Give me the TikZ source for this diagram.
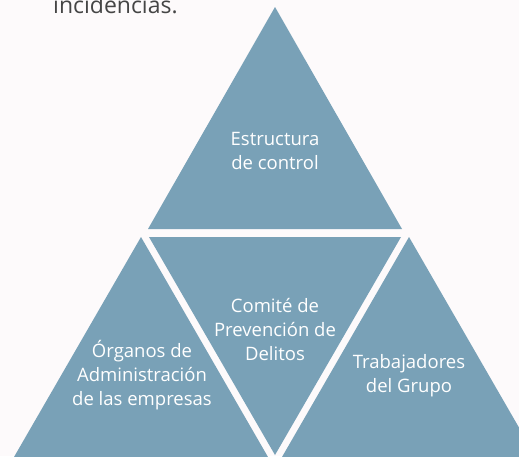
\documentclass[tikz,border=0pt]{standalone}
\usepackage{fontspec}
\setmainfont{Open Sans}
\definecolor{tricol}{HTML}{79A1B7}
\definecolor{bgcol}{HTML}{FDFAFB}
\definecolor{txtcol}{HTML}{454545}
\begin{document}
\begin{tikzpicture}[x=1pt,y=-1pt,
  trishape/.style={fill=tricol},
  lbl/.style={text=white, font=\fontsize{18.5}{24}\selectfont, align=center, inner sep=0pt}]
\useasboundingbox (0,0) rectangle (519,456);
\clip (0,0) rectangle (519,456);
\fill[bgcol] (0,0) rectangle (519,456);
% top triangle
\fill[trishape] (275,7) -- (402,229) -- (148,229) -- cycle;
% middle inverted triangle
\fill[trishape] (149,237) -- (401,237) -- (275,455) -- cycle;
% left triangle
\fill[trishape] (141,237) -- (268,457) -- (14,457) -- cycle;
% right triangle
\fill[trishape] (409,237) -- (536,457) -- (282,457) -- cycle;
% labels
\node[anchor=base west, inner sep=0pt, text=txtcol, font=\fontsize{23}{28}\selectfont] (top) at (53,13) {incidencias.};
\node[lbl] (est) at (275,151) {Estructura\\de control};
\node[lbl] (com) at (275,329) {Comité de\\Prevención de\\Delitos};
\node[lbl] (org) at (142,375.5) {Órganos de\\Administración\\de las empresas};
\node[lbl] (tra) at (409,376) {Trabajadores\\del Grupo};
\end{tikzpicture}
\end{document}
